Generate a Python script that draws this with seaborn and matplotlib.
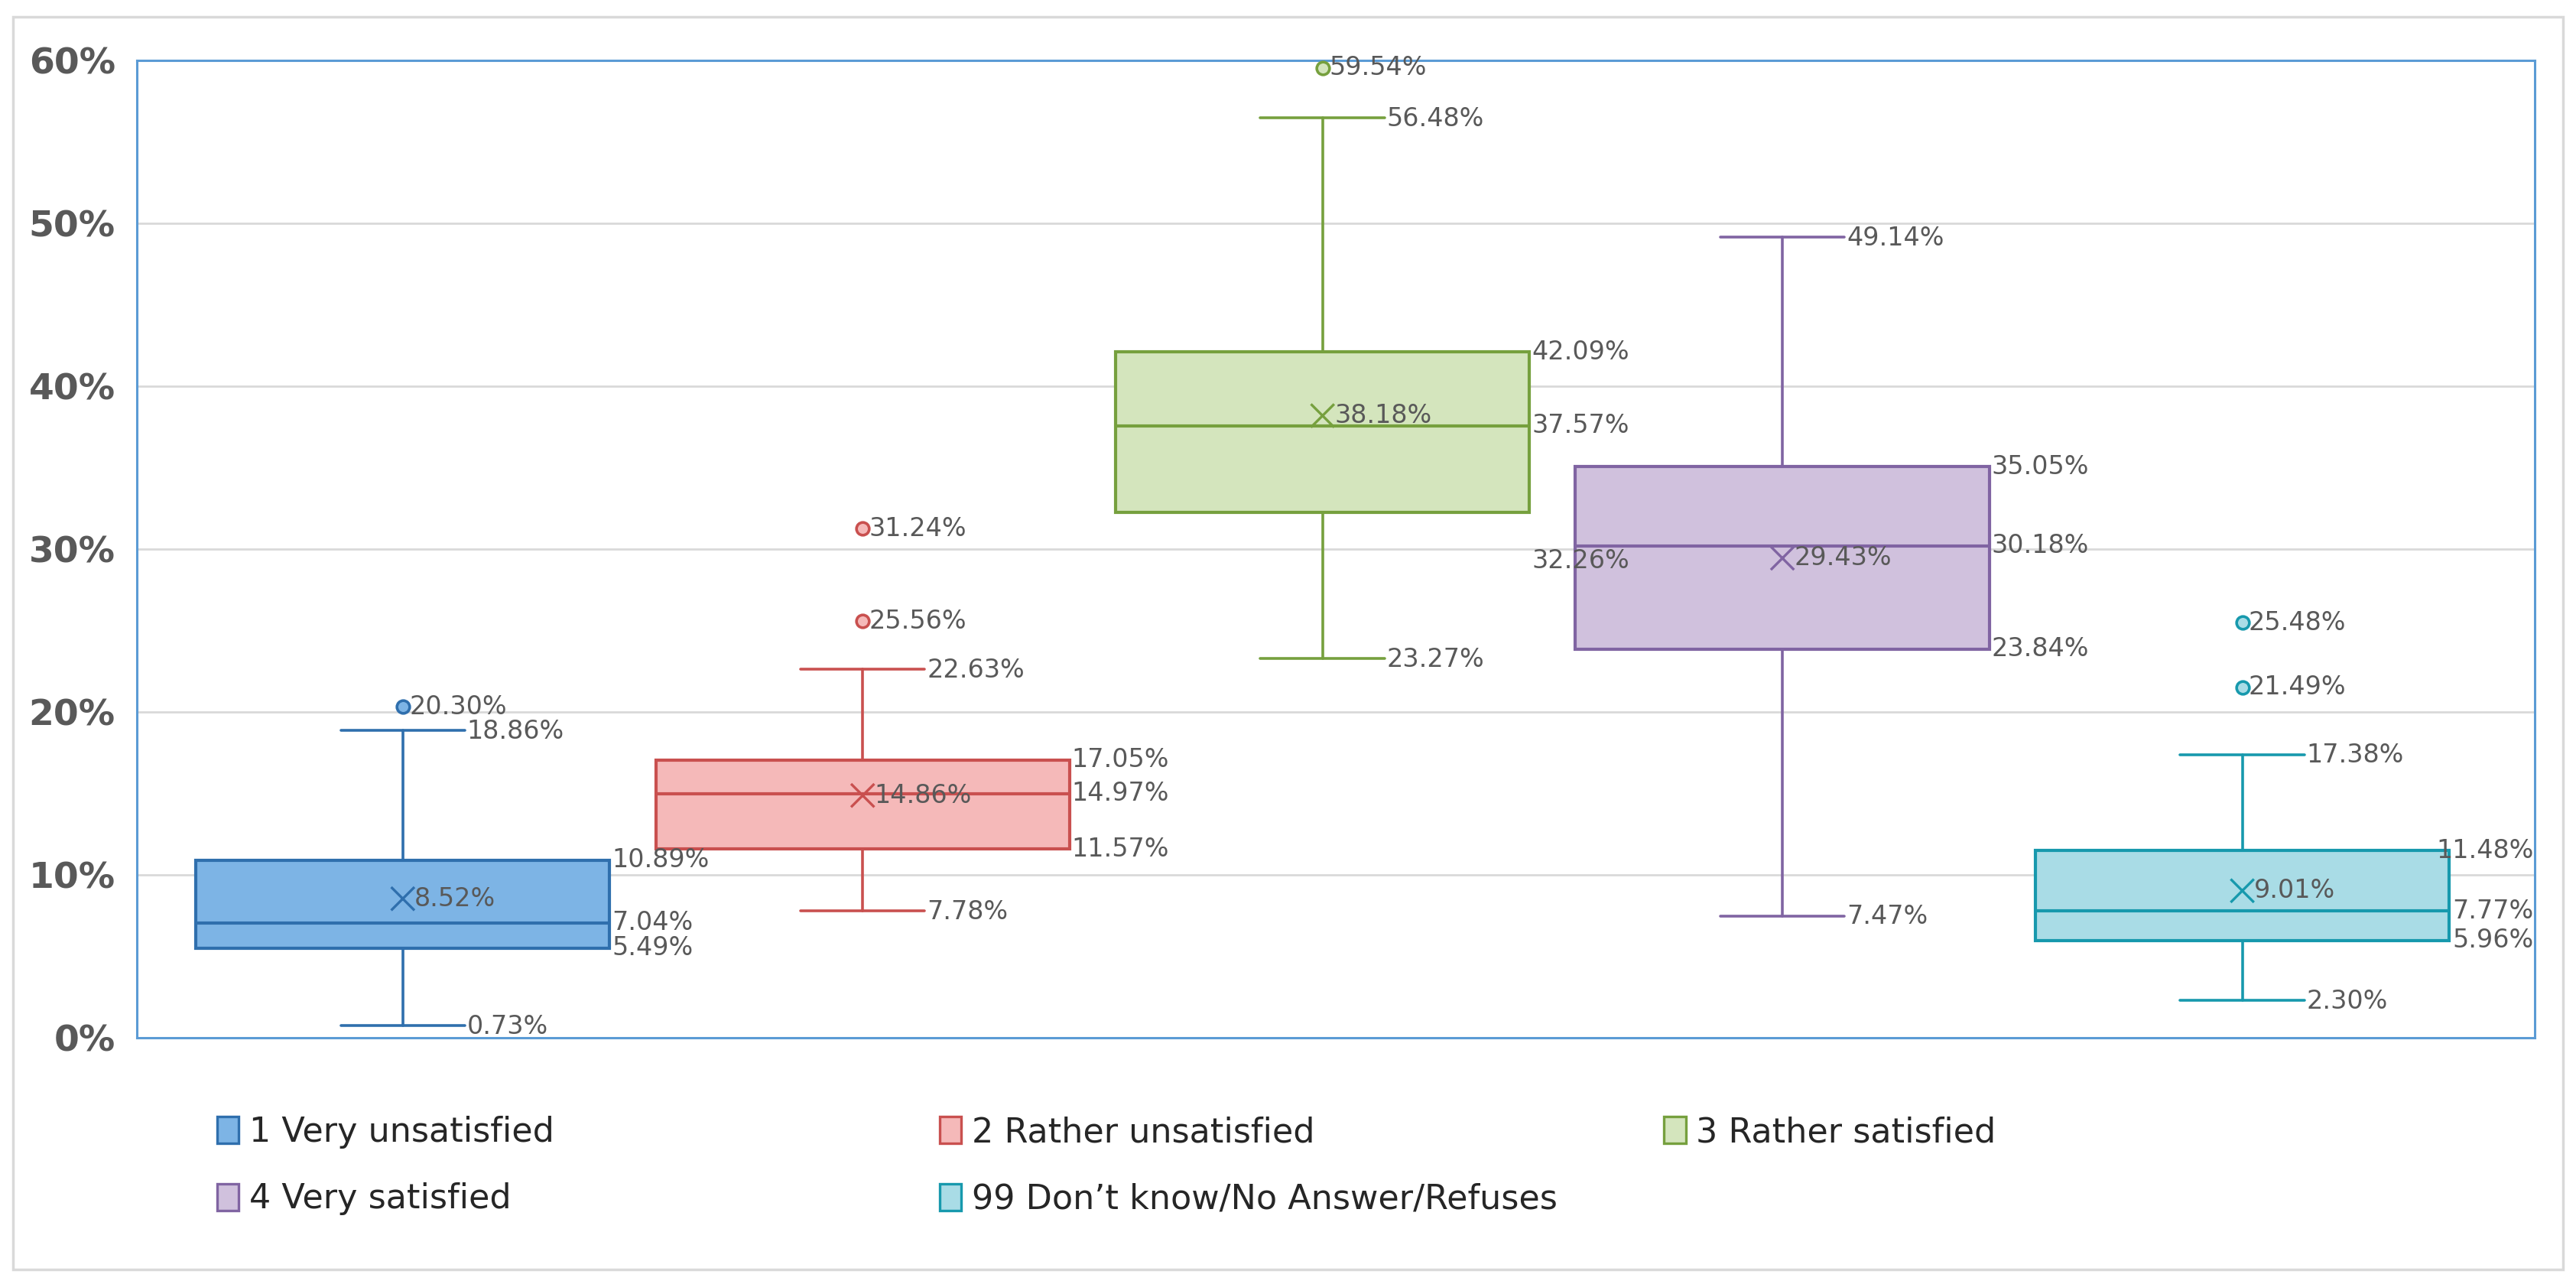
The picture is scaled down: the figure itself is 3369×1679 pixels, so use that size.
import numpy as np
import pandas as pd
import matplotlib.pyplot as plt
import seaborn as sns
from matplotlib.patches import Rectangle, Patch
from matplotlib.ticker import PercentFormatter

# SECTION DATA
categories = ["1 Very unsatisfied", "2 Rather unsatisfied", "3 Rather satisfied",
              "4 Very satisfied", "99 Don\u2019t know/No Answer/Refuses"]
whisker_low = [0.73, 7.78, 23.27, 7.47, 2.30]
q1 = [5.49, 11.57, 32.26, 23.84, 5.96]
median = [7.04, 14.97, 37.57, 30.18, 7.77]
q3 = [10.89, 17.05, 42.09, 35.05, 11.48]
whisker_high = [18.86, 22.63, 56.48, 49.14, 17.38]
mean = [8.52, 14.86, 38.18, 29.43, 9.01]
outliers = [[20.30], [25.56, 31.24], [59.54], [], [21.49, 25.48]]

# SECTION STYLE
fill_colors = ["#7DB4E5", "#F5B9B9", "#D4E5BD", "#D0C1DD", "#A9DCE6"]
edge_colors = ["#2F6FAD", "#C9504F", "#76A03E", "#8064A2", "#1799AD"]
label_color = "#595959"
grid_color = "#D9D9D9"
frame_color = "#5B9BD5"

sns.set_theme(style="white")
plt.rcParams['font.family'] = ['DejaVu Sans']

fig = plt.figure(figsize=(33.69, 16.79), dpi=100)
ax = fig.add_axes([0.053, 0.192, 0.931, 0.761])

positions = np.arange(len(categories))
stats = []
for i, cat in enumerate(categories):
    stats.append({
        'label': cat,
        'whislo': whisker_low[i] / 100, 'q1': q1[i] / 100, 'med': median[i] / 100,
        'q3': q3[i] / 100, 'whishi': whisker_high[i] / 100,
        'mean': mean[i] / 100, 'fliers': np.array(outliers[i]) / 100,
    })

parts = ax.bxp(stats, positions=positions, widths=0.9, patch_artist=True,
               showmeans=False, showfliers=False, capwidths=0.27, zorder=3)
for i in range(len(categories)):
    parts['boxes'][i].set(facecolor=fill_colors[i], edgecolor=edge_colors[i], linewidth=3)
    parts['medians'][i].set(color=edge_colors[i], linewidth=3)
    for k in (2 * i, 2 * i + 1):
        parts['whiskers'][k].set(color=edge_colors[i], linewidth=2.6)
        parts['caps'][k].set(color=edge_colors[i], linewidth=2.6)

# means drawn with seaborn
mean_df = pd.DataFrame({'pos': positions, 'mean': np.array(mean) / 100, 'cat': categories})
sns.scatterplot(data=mean_df, x='pos', y='mean', hue='cat', palette=edge_colors,
                marker='x', s=480, linewidth=2.4, legend=False, ax=ax, zorder=5)

# outliers
for i, vals in enumerate(outliers):
    if vals:
        ax.plot([positions[i]] * len(vals), np.array(vals) / 100, 'o', ms=12,
                mfc=fill_colors[i], mec=edge_colors[i], mew=2.6, zorder=5)

# SECTION LABELS
label_kw = dict(fontsize=24, color=label_color, va='center', textcoords='offset points', zorder=6)
x_right = 4.636
for i in range(len(categories)):
    c = positions[i]
    for v in (whisker_low[i], whisker_high[i]):
        ax.annotate(f"{v:.2f}%", (c + 0.135, v / 100), xytext=(2, -1), **label_kw)
    for key, v in (('q1', q1[i]), ('med', median[i]), ('q3', q3[i])):
        dy = -46 if (i == 2 and key == 'q1') else 0
        if i == len(categories) - 1:
            ax.annotate(f"{v:.2f}%", (x_right, v / 100), xytext=(-1, dy), ha='right', **label_kw)
        else:
            ax.annotate(f"{v:.2f}%", (c + 0.45, v / 100), xytext=(2, dy), **label_kw)
    ax.annotate(f"{mean[i]:.2f}%", (c, mean[i] / 100), xytext=(11, 0), **label_kw)
    for v in outliers[i]:
        ax.annotate(f"{v:.2f}%", (c, v / 100), xytext=(6, 0), **label_kw)

# SECTION AXES
ax.set_xlim(-0.579, x_right)
ax.set_ylim(0, 0.6)
ax.set_yticks(np.arange(0, 0.61, 0.1))
ax.yaxis.set_major_formatter(PercentFormatter(1.0, decimals=0))
ax.set_xticks([])
ax.tick_params(axis='y', length=0, pad=20, labelsize=34, labelcolor=label_color)
for t in ax.get_yticklabels():
    t.set_fontweight('bold')
ax.grid(axis='y', color=grid_color, linewidth=2, zorder=0)
ax.set_axisbelow(True)
for s in ax.spines.values():
    s.set_color(frame_color)
    s.set_linewidth(2.2)
    s.set_visible(True)
ax.set_xlabel("")
ax.set_ylabel("")

# SECTION LEGEND (three columns filled row by row)
handles = [Patch(facecolor=fill_colors[i], edgecolor=edge_colors[i], linewidth=2.4, label=categories[i])
           for i in range(len(categories))]
columns = [[0, 3], [1, 4], [2]]
col_x = [0.0843, 0.3648, 0.646]
for idx, x0 in zip(columns, col_x):
    fig.legend(handles=[handles[j] for j in idx], loc='upper left', bbox_to_anchor=(x0, 0.131),
               frameon=False, fontsize=32, handlelength=0.64, handleheight=0.84,
               handletextpad=0.3, labelspacing=1.0, borderpad=0, borderaxespad=0)

# outer border
fig.patches.append(Rectangle((0.005, 0.0115), 0.99, 0.9755, transform=fig.transFigure,
                             fill=False, edgecolor=grid_color, linewidth=2.5))

fig.savefig('out.png', dpi=100, facecolor='white')
